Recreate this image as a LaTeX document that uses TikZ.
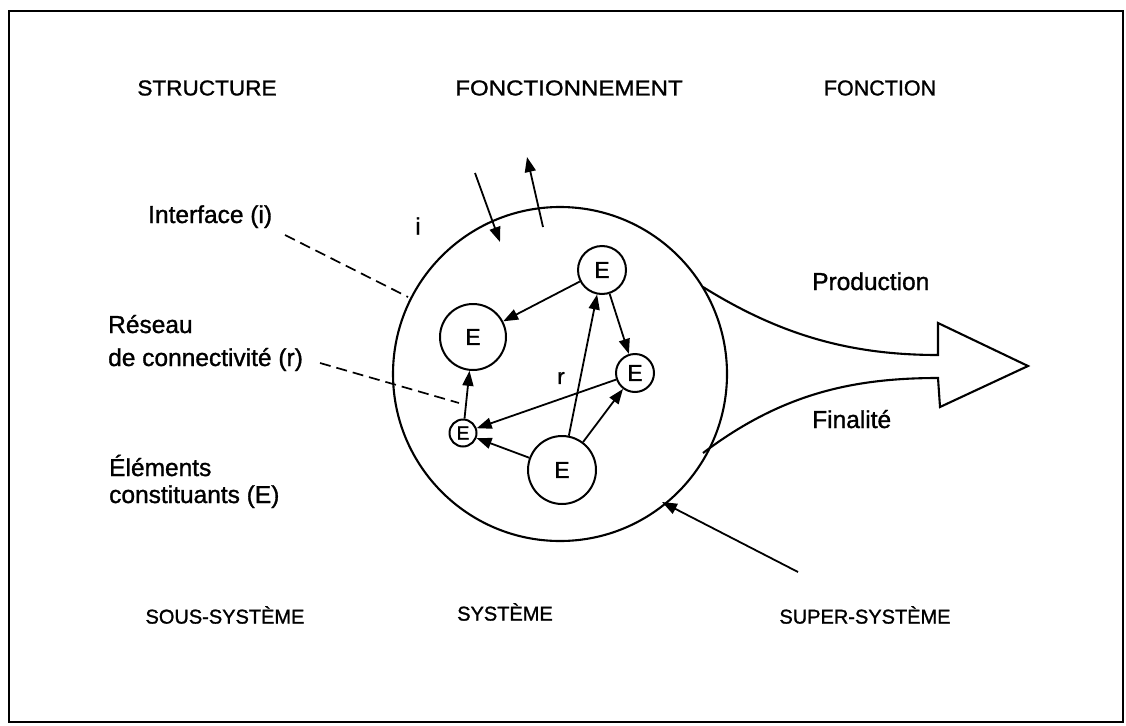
\documentclass[tikz,border=0pt]{standalone}
\usepackage{fontspec}
\setmainfont[FakeBold=1.2]{Liberation Sans}
\usetikzlibrary{arrows.meta}
\begin{document}
\begin{tikzpicture}[x=1pt,y=-1pt,
  lbl/.style={font=\fontsize{24.5}{28}\selectfont, anchor=base west, inner sep=0},
  hdr/.style={font=\fontsize{21.5}{25}\selectfont, inner sep=0},
  ftr/.style={font=\fontsize{20}{23}\selectfont, inner sep=0},
  elem/.style={circle, draw, line width=2pt, inner sep=0, font=\fontsize{23}{25}\selectfont},
  arr/.style={line width=1.8pt, -{Triangle[length=15pt,width=11pt]}},
  lead/.style={line width=1.7pt, dash pattern=on 11pt off 6pt},
  outline/.style={line width=2.1pt},
]
\useasboundingbox (0,0) rectangle (1126,725);
\draw[line width=1.8pt] (9,11) rectangle (1123,722);

% headers
\node[hdr] (h1) at (207,88) {\scalebox{1.05}[1]{STRUCTURE}};
\node[hdr] (h2) at (569,88) {\scalebox{1.12}[1]{FONCTIONNEMENT}};
\node[hdr] (h3) at (880,88) {FONCTION};

% footers
\node[ftr] (f1) at (225,615) {SOUS-SYSTÈME};
\node[ftr] (f2) at (505,612) {SYSTÈME};
\node[ftr] (f3) at (865,615) {SUPER-SYSTÈME};

% left labels
\node[lbl] (li) at (148,223) {Interface (i)};
\node[lbl] (lr1) at (108,333) {Réseau};
\node[lbl] (lr2) at (108,366) {de connectivité (r)};
\node[lbl] (le1) at (109,476) {Éléments};
\node[lbl] (le2) at (109,503) {constituants (E)};

% right labels
\node[lbl] (prod) at (812,290) {Production};
\node[lbl] (fin) at (812,428) {Finalité};

% system circle
\node[circle, draw, outline, minimum size=334pt, inner sep=0] (sys) at (560,374) {};

% elements
\node[elem, minimum size=48pt] (e1) at (602,270) {E};
\node[elem, minimum size=66pt] (e2) at (473,337) {E};
\node[elem, minimum size=38pt] (e3) at (635,373) {E};
\node[elem, minimum size=27pt, font=\fontsize{19}{21}\selectfont] (e4) at (463,433) {E};
\node[elem, minimum size=68pt] (e5) at (562,470) {E};

\draw[arr] (e1) -- (e2);
\draw[arr] (e1) -- (e3);
\draw[arr] (e5) -- (e1);
\draw[arr] (e5) -- (e3);
\draw[arr] (e5) -- (e4);
\draw[arr] (e3) -- (e4);
\draw[arr] (e4) -- (e2);

\node[font=\fontsize{22}{24}\selectfont, inner sep=0] (rl) at (561,378) {r};
\node[font=\fontsize{24}{26}\selectfont, inner sep=0] (il) at (418,226) {i};

% interface arrows
\coordinate (a1s) at (475,173);
\coordinate (a1e) at (500,242);
\coordinate (a2s) at (543,227);
\coordinate (a2e) at (527,157);
\draw[arr] (a1s) -- (a1e);
\draw[arr] (a2s) -- (a2e);

% leader lines
\coordinate (ds1) at (285,235);
\coordinate (de1) at (408,297);
\coordinate (ds2) at (320,363);
\coordinate (de2) at (459,403);
\draw[lead] (ds1) -- (de1);
\draw[lead] (ds2) -- (de2);

% production arrow
\coordinate (p0) at (703,287);
\coordinate (p1) at (938,355);
\coordinate (p2) at (938,323);
\coordinate (p3) at (1028,366);
\coordinate (p4) at (940,407);
\coordinate (p5) at (938,378);
\coordinate (p6) at (703,453);
\draw[outline, line join=miter] (p0) .. controls (780,335) and (850,355) .. (p1)
  -- (p2) -- (p3) -- (p4) -- (p5)
  .. controls (850,378) and (780,395) .. (p6);

% super-system arrow
\coordinate (ss) at (798,572);
\coordinate (st) at (662,502);
\draw[arr] (ss) -- (st);
\end{tikzpicture}
\end{document}
